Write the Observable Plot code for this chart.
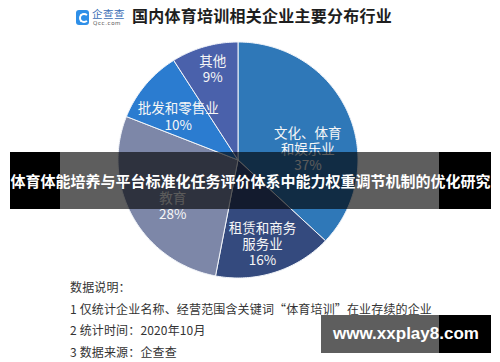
<!DOCTYPE html>
<html>
<head>
<meta charset="utf-8">
<script src="https://cdn.jsdelivr.net/npm/d3@7"></script>
<script src="https://cdn.jsdelivr.net/npm/@observablehq/plot@0.6"></script>
<style>
  html, body { margin: 0; padding: 0; background: #fff; }
  #wrap { position: relative; width: 500px; height: 362px; overflow: hidden; font-family: "Noto Sans CJK SC", "Noto Sans", sans-serif; }
  #chart { position: absolute; left: 0; top: 0; }
  .abs { position: absolute; white-space: nowrap; }
</style>
</head>
<body>
<div id="wrap">
  <div id="chart"></div>
  <!-- logo -->
  <div class="abs" style="left:76px;top:10px;width:13px;height:15px;background:#2e8fe8;border-radius:3px;"></div>
  <div class="abs" style="left:78.5px;top:13px;width:6px;height:6px;border:2px solid #fff;border-radius:50%;border-right-color:transparent;"></div>
  <div class="abs" style="left:92px;top:8px;font-size:10.5px;line-height:11px;color:#3a6db5;letter-spacing:0.5px;">企查查</div>
  <div class="abs" style="left:93px;top:19.5px;font-size:5.5px;line-height:6px;color:#555;font-family:'DejaVu Sans',sans-serif;letter-spacing:0.6px;">Qcc.com</div>
  <!-- title -->
  <div class="abs" id="title" style="left:132px;top:4px;font-size:16px;font-weight:bold;color:#1e1e1e;letter-spacing:0.25px;line-height:22px;"></div>
  <!-- notes -->
  <div class="abs" id="notes" style="left:70px;top:276px;font-size:12px;color:#333;line-height:21.5px;letter-spacing:0.15px;"></div>
  <!-- banner -->
  <div class="abs" style="left:10px;top:152px;width:50px;height:57px;background:#000;"></div>
  <div class="abs" style="left:60px;top:152px;width:379px;height:57px;background:rgba(0,0,0,0.63);"></div>
  <div class="abs" style="left:439px;top:152px;width:52px;height:57px;background:#000;"></div>
  <div class="abs" id="banner" style="left:10px;top:152px;width:481px;height:57px;line-height:57px;text-align:center;font-size:15px;font-weight:bold;color:#fff;"></div>
  <!-- watermark -->
  <div class="abs" style="left:321px;top:315px;width:118px;height:38px;background:rgba(0,0,0,0.63);"></div>
  <div class="abs" style="left:439px;top:315px;width:52px;height:38px;background:#000;"></div>
  <div class="abs" id="wm" style="left:321px;top:315px;width:170px;height:38px;line-height:38px;text-align:center;font-size:17px;font-weight:bold;color:#fff;font-family:'Liberation Sans',Arial,sans-serif;"></div>
</div>
<script>
// ---- data ----
const categories = ["文化、体育\n和娱乐业", "租赁和商务\n服务业", "教育", "批发和零售业", "其他"];
const shares = [37, 16, 28, 10, 9];
const sliceColors = ["#2f78b8", "#344a7e", "#7d87a8", "#2b7cd0", "#4a61ab"];
const titleText = "国内体育培训相关企业主要分布行业";
const noteLines = [
  "数据说明：",
  "1 仅统计企业名称、经营范围含关键词“体育培训”在业存续的企业",
  "2 统计时间：2020年10月",
  "3 数据来源：企查查"
];
const bannerText = "体育体能培养与平台标准化任务评价体系中能力权重调节机制的优化研究";
const watermarkText = "www.xxplay8.com";

// ---- label layout (not data) ----
const labelRadius = [0.59, 0.74, 0.67, 0.62, 0.80];
const labelTurn = [14, 2, -7, -3, 1];

document.getElementById("title").textContent = titleText;
document.getElementById("notes").innerHTML = noteLines.map(s => `<div>${s}</div>`).join("");
document.getElementById("banner").textContent = bannerText;
document.getElementById("wm").textContent = watermarkText;

// ---- pie geometry ----
const arcs = d3.pie().sort(null).value(d => d)(shares);
const rows = [];
arcs.forEach((a, i) => {
  const cat = categories[i];
  rows.push({cat, x: 0, y: 0});
  const n = Math.max(2, Math.ceil((a.endAngle - a.startAngle) / (Math.PI / 180)));
  for (let k = 0; k <= n; k++) {
    const t = a.startAngle + (a.endAngle - a.startAngle) * k / n;
    rows.push({cat, x: Math.sin(t), y: Math.cos(t)});
  }
  rows.push({cat, x: 0, y: 0});
});
const labels = arcs.map((a, i) => {
  const mid = (a.startAngle + a.endAngle) / 2 + labelTurn[i] * Math.PI / 180;
  return {
    text: categories[i] + "\n" + shares[i] + "%",
    x: labelRadius[i] * Math.sin(mid),
    y: labelRadius[i] * Math.cos(mid)
  };
});

const plot = Plot.plot({
  width: 500,
  height: 362,
  margin: 0,
  x: {domain: [-1, 1], range: [117.5, 357.5], axis: null},
  y: {domain: [-1, 1], range: [277.5, 41.5], axis: null},
  color: {domain: categories, range: sliceColors},
  marks: [
    Plot.line(rows, {x: "x", y: "y", z: "cat", fill: "cat", stroke: "#f2f5fa", strokeWidth: 1, curve: "linear"}),
    Plot.text(labels, {
      x: "x", y: "y", text: "text",
      fill: "#f6f6f6", fontSize: 13.5, lineHeight: 1.19,
      fontFamily: "Noto Sans CJK SC"
    })
  ]
});
plot.style.background = "transparent";
document.getElementById("chart").appendChild(plot);
</script>
</body>
</html>
